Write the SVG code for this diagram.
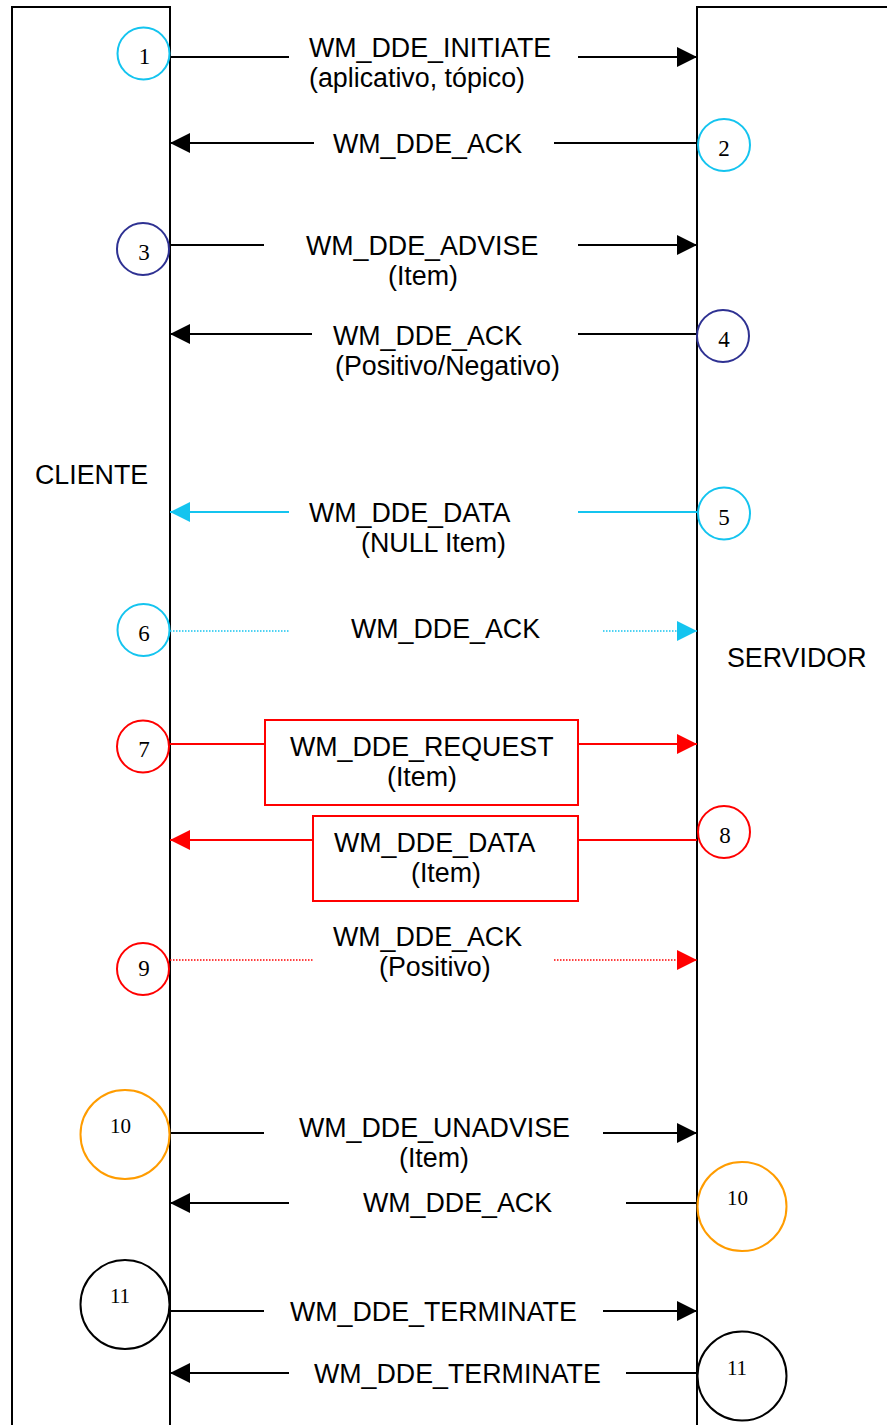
<svg xmlns="http://www.w3.org/2000/svg" width="887" height="1425" viewBox="0 0 887 1425">
  <style>
    .lane { fill: none; stroke: #000; stroke-width: 2; }
    .lbl { font-family: "Liberation Sans", Arial, sans-serif; font-size: 26.8px; fill: #000; }
    .num { font-family: "Liberation Serif", "Times New Roman", serif; font-size: 23px; fill: #000; text-anchor: middle; }
    .num.big { font-size: 21px; }
    .ring { fill: none; stroke-width: 2; }
    .cyan { stroke: #14C4EF; }
    .navy { stroke: #2E3192; }
    .red { stroke: #FF0000; }
    .orange { stroke: #FF9C00; }
    .black { stroke: #000; }
    .ln { fill: none; stroke-width: 2; }
    .dot { fill: none; stroke-width: 1.5; stroke-dasharray: 1.5 1.5; }
    .box { fill: none; stroke: #FF0000; stroke-width: 2; }
  </style>
  <defs>
    <marker id="ah-black" markerUnits="userSpaceOnUse" markerWidth="20" markerHeight="20" refX="20" refY="10" orient="auto">
      <path d="M0,0 L20,10 L0,20 Z" fill="#000"/>
    </marker>
    <marker id="ah-cyan" markerUnits="userSpaceOnUse" markerWidth="20" markerHeight="20" refX="20" refY="10" orient="auto">
      <path d="M0,0 L20,10 L0,20 Z" fill="#14C4EF"/>
    </marker>
    <marker id="ah-red" markerUnits="userSpaceOnUse" markerWidth="20" markerHeight="20" refX="20" refY="10" orient="auto">
      <path d="M0,0 L20,10 L0,20 Z" fill="#FF0000"/>
    </marker>
  </defs>

  <rect x="0" y="0" width="887" height="1425" fill="#fff"/>

  <!-- participants -->
  <g id="cliente">
    <path class="lane" d="M12,1426 V7 H170 V1426"/>
    <text class="lbl" x="35" y="484">CLIENTE</text>
  </g>
  <g id="servidor">
    <path class="lane" d="M697,1426 V7 H888"/>
    <text class="lbl" x="727" y="667">SERVIDOR</text>
  </g>

  <!-- message connectors -->
  <g id="connectors">
    <!-- 1 initiate -->
    <line class="ln black" x1="170" y1="57" x2="289" y2="57"/>
    <line class="ln black" x1="578" y1="57" x2="697" y2="57" marker-end="url(#ah-black)"/>
    <!-- 2 ack -->
    <line class="ln black" x1="314" y1="143" x2="170" y2="143" marker-end="url(#ah-black)"/>
    <line class="ln black" x1="554" y1="143" x2="697" y2="143"/>
    <!-- 3 advise -->
    <line class="ln black" x1="170" y1="245" x2="264" y2="245"/>
    <line class="ln black" x1="578" y1="245" x2="697" y2="245" marker-end="url(#ah-black)"/>
    <!-- 4 ack -->
    <line class="ln black" x1="312" y1="334" x2="170" y2="334" marker-end="url(#ah-black)"/>
    <line class="ln black" x1="578" y1="334" x2="697" y2="334"/>
    <!-- 5 data -->
    <line class="ln cyan" x1="289" y1="512" x2="170" y2="512" marker-end="url(#ah-cyan)"/>
    <line class="ln cyan" x1="578" y1="512" x2="697" y2="512"/>
    <!-- 6 ack -->
    <line class="dot cyan" x1="170" y1="631" x2="289" y2="631"/>
    <line class="dot cyan" x1="603" y1="631" x2="697" y2="631" marker-end="url(#ah-cyan)"/>
    <!-- 7 request -->
    <line class="ln red" x1="170" y1="744" x2="265" y2="744"/>
    <line class="ln red" x1="578" y1="744" x2="697" y2="744" marker-end="url(#ah-red)"/>
    <!-- 8 data -->
    <line class="ln red" x1="313" y1="840" x2="170" y2="840" marker-end="url(#ah-red)"/>
    <line class="ln red" x1="578" y1="840" x2="697" y2="840"/>
    <!-- 9 ack -->
    <line class="dot red" x1="170" y1="960" x2="313" y2="960"/>
    <line class="dot red" x1="554" y1="960" x2="697" y2="960" marker-end="url(#ah-red)"/>
    <!-- 10 unadvise -->
    <line class="ln black" x1="170" y1="1133" x2="264" y2="1133"/>
    <line class="ln black" x1="603" y1="1133" x2="697" y2="1133" marker-end="url(#ah-black)"/>
    <!-- 10 ack -->
    <line class="ln black" x1="289" y1="1203" x2="170" y2="1203" marker-end="url(#ah-black)"/>
    <line class="ln black" x1="626" y1="1203" x2="697" y2="1203"/>
    <!-- 11 terminate -->
    <line class="ln black" x1="170" y1="1311" x2="264" y2="1311"/>
    <line class="ln black" x1="603" y1="1311" x2="697" y2="1311" marker-end="url(#ah-black)"/>
    <!-- 11 terminate back -->
    <line class="ln black" x1="289" y1="1373" x2="170" y2="1373" marker-end="url(#ah-black)"/>
    <line class="ln black" x1="626" y1="1373" x2="697" y2="1373"/>
  </g>

  <!-- message labels -->
  <g id="msg-1">
    <text class="lbl" x="309" y="57">WM_DDE_INITIATE</text>
    <text class="lbl" x="309" y="87">(aplicativo, tópico)</text>
  </g>
  <g id="msg-2">
    <text class="lbl" x="333" y="153">WM_DDE_ACK</text>
  </g>
  <g id="msg-3">
    <text class="lbl" x="306" y="255">WM_DDE_ADVISE</text>
    <text class="lbl" x="388" y="285">(Item)</text>
  </g>
  <g id="msg-4">
    <text class="lbl" x="333" y="345">WM_DDE_ACK</text>
    <text class="lbl" x="335" y="375">(Positivo/Negativo)</text>
  </g>
  <g id="msg-5">
    <text class="lbl" x="309" y="522">WM_DDE_DATA</text>
    <text class="lbl" x="361" y="552">(NULL Item)</text>
  </g>
  <g id="msg-6">
    <text class="lbl" x="351" y="638">WM_DDE_ACK</text>
  </g>
  <g id="msg-7">
    <rect class="box" x="265" y="720" width="313" height="85"/>
    <text class="lbl" x="290" y="756">WM_DDE_REQUEST</text>
    <text class="lbl" x="387" y="786">(Item)</text>
  </g>
  <g id="msg-8">
    <rect class="box" x="313" y="816" width="265" height="85"/>
    <text class="lbl" x="334" y="852">WM_DDE_DATA</text>
    <text class="lbl" x="411" y="882">(Item)</text>
  </g>
  <g id="msg-9">
    <text class="lbl" x="333" y="946">WM_DDE_ACK</text>
    <text class="lbl" x="379" y="976">(Positivo)</text>
  </g>
  <g id="msg-10">
    <text class="lbl" x="299" y="1137">WM_DDE_UNADVISE</text>
    <text class="lbl" x="399" y="1167">(Item)</text>
  </g>
  <g id="msg-10b">
    <text class="lbl" x="363" y="1212">WM_DDE_ACK</text>
  </g>
  <g id="msg-11">
    <text class="lbl" x="290" y="1321">WM_DDE_TERMINATE</text>
  </g>
  <g id="msg-11b">
    <text class="lbl" x="314" y="1383">WM_DDE_TERMINATE</text>
  </g>

  <!-- step markers -->
  <g id="step-1"><circle class="ring cyan" cx="143.5" cy="53.5" r="26"/><text class="num" x="144.5" y="64">1</text></g>
  <g id="step-2"><circle class="ring cyan" cx="724" cy="145" r="26"/><text class="num" x="724" y="156">2</text></g>
  <g id="step-3"><circle class="ring navy" cx="143" cy="249" r="26"/><text class="num" x="144" y="260">3</text></g>
  <g id="step-4"><circle class="ring navy" cx="723" cy="336" r="26"/><text class="num" x="724" y="347">4</text></g>
  <g id="step-5"><circle class="ring cyan" cx="724" cy="513.5" r="26"/><text class="num" x="724" y="525">5</text></g>
  <g id="step-6"><circle class="ring cyan" cx="143.5" cy="630" r="26"/><text class="num" x="144" y="641">6</text></g>
  <g id="step-7"><circle class="ring red" cx="143" cy="746.5" r="26"/><text class="num" x="144" y="757">7</text></g>
  <g id="step-8"><circle class="ring red" cx="724" cy="832" r="26"/><text class="num" x="725" y="843">8</text></g>
  <g id="step-9"><circle class="ring red" cx="143" cy="969" r="26"/><text class="num" x="144" y="976">9</text></g>
  <g id="step-10a"><circle class="ring orange" cx="125" cy="1134.5" r="44.5"/><text class="num big" x="120.5" y="1133">10</text></g>
  <g id="step-10b"><circle class="ring orange" cx="742" cy="1206.5" r="44.5"/><text class="num big" x="737.5" y="1205">10</text></g>
  <g id="step-11a"><circle class="ring black" cx="125" cy="1304.5" r="44.5"/><text class="num big" x="120" y="1303">11</text></g>
  <g id="step-11b"><circle class="ring black" cx="742" cy="1376" r="44.5"/><text class="num big" x="737" y="1375">11</text></g>
</svg>
